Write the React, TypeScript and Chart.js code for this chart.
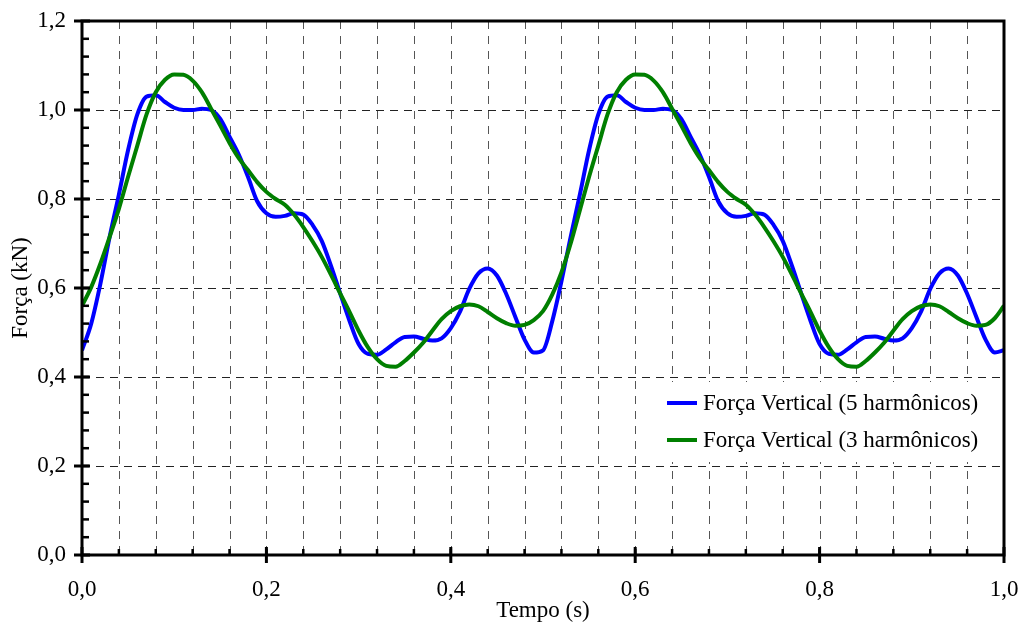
import { useEffect, useRef } from "react";
import { Chart, registerables } from "chart.js";

Chart.register(...registerables);

const TIME = [
  0.0, 0.01, 0.02, 0.03, 0.04, 0.05, 0.06, 0.07, 0.08, 0.09,
  0.1, 0.11, 0.12, 0.13, 0.14, 0.15, 0.16, 0.17, 0.18, 0.19,
  0.2, 0.21, 0.22, 0.23, 0.24, 0.25, 0.26, 0.27, 0.28, 0.29,
  0.3, 0.31, 0.32, 0.33, 0.34, 0.35, 0.36, 0.37, 0.38, 0.39,
  0.4, 0.41, 0.42, 0.43, 0.44, 0.45, 0.46, 0.47, 0.48, 0.49,
  0.5, 0.51, 0.52, 0.53, 0.54, 0.55, 0.56, 0.57, 0.58, 0.59,
  0.6, 0.61, 0.62, 0.63, 0.64, 0.65, 0.66, 0.67, 0.68, 0.69,
  0.7, 0.71, 0.72, 0.73, 0.74, 0.75, 0.76, 0.77, 0.78, 0.79,
  0.8, 0.81, 0.82, 0.83, 0.84, 0.85, 0.86, 0.87, 0.88, 0.89,
  0.9, 0.91, 0.92, 0.93, 0.94, 0.95, 0.96, 0.97, 0.98, 0.99,
  1.0,
];

const FORCE_5H = [
  0.46, 0.52, 0.61, 0.715, 0.81, 0.91, 0.99, 1.03, 1.033, 1.018,
  1.005, 1.0, 1.0, 1.003, 1.0, 0.98, 0.94, 0.9, 0.85, 0.795,
  0.768, 0.76, 0.762, 0.768, 0.765, 0.742, 0.706, 0.65, 0.588, 0.527,
  0.474, 0.452, 0.45, 0.462, 0.478, 0.49, 0.491, 0.486, 0.482, 0.487,
  0.51, 0.547, 0.598, 0.633, 0.644, 0.628, 0.587, 0.535, 0.484, 0.455,
  0.46, 0.525, 0.615, 0.715, 0.81, 0.91, 0.99, 1.03, 1.033, 1.018,
  1.005, 1.0, 1.0, 1.003, 1.0, 0.98, 0.94, 0.9, 0.85, 0.795,
  0.768, 0.76, 0.762, 0.768, 0.765, 0.742, 0.706, 0.65, 0.588, 0.527,
  0.474, 0.452, 0.45, 0.462, 0.478, 0.49, 0.491, 0.486, 0.482, 0.487,
  0.51, 0.547, 0.598, 0.633, 0.644, 0.628, 0.587, 0.535, 0.484, 0.455,
  0.46,
];

const FORCE_3H = [
  0.56, 0.602, 0.655, 0.715, 0.778, 0.85, 0.92, 0.99, 1.04, 1.068,
  1.08, 1.079, 1.066, 1.04, 1.003, 0.965, 0.926, 0.892, 0.865, 0.838,
  0.816, 0.8, 0.787, 0.765, 0.737, 0.705, 0.67, 0.63, 0.588, 0.547,
  0.504, 0.467, 0.44, 0.425, 0.423, 0.436, 0.455, 0.477, 0.504, 0.53,
  0.548, 0.559, 0.563, 0.559, 0.546, 0.532, 0.521, 0.515, 0.517, 0.528,
  0.548, 0.585, 0.635, 0.7, 0.775, 0.85, 0.92, 0.99, 1.04, 1.068,
  1.08, 1.079, 1.066, 1.04, 1.003, 0.965, 0.926, 0.892, 0.865, 0.838,
  0.816, 0.8, 0.787, 0.765, 0.737, 0.705, 0.67, 0.63, 0.588, 0.547,
  0.504, 0.467, 0.44, 0.425, 0.423, 0.436, 0.455, 0.477, 0.504, 0.53,
  0.548, 0.559, 0.563, 0.559, 0.546, 0.532, 0.521, 0.515, 0.517, 0.532,
  0.56,
];

const SERIES_LABELS = ["Força Vertical (5 harmônicos)", "Força Vertical (3 harmônicos)"];
const SERIES_COLORS = ["#0000ff", "#007f00"];
const X_TITLE = "Tempo (s)";
const Y_TITLE = "Força (kN)";
const X_MAJOR = [0, 0.2, 0.4, 0.6, 0.8, 1.0];
const Y_MAJOR = [0, 0.2, 0.4, 0.6, 0.8, 1.0, 1.2];
const MINOR_STEP = 0.04;

const FONT_FAMILY = "'Liberation Serif', 'Times New Roman', serif";
const FONT_SIZE = 23;
const fmt = (v: number) => Number(v).toFixed(1).replace(".", ",");

const framePlugin = {
  id: "framePlugin",
  beforeDatasetsDraw(chart: any) {
    const { ctx, chartArea, scales } = chart;
    const { left, right, top, bottom } = chartArea;
    const x = scales.x;
    const y = scales.y;
    ctx.save();
    ctx.lineWidth = 1;
    ctx.setLineDash([8, 7]);
    ctx.strokeStyle = "#555";
    const nx = Math.round((x.max - x.min) / MINOR_STEP);
    for (let i = 1; i < nx; i++) {
      const px = Math.round(x.getPixelForValue(x.min + i * MINOR_STEP)) + 0.5;
      ctx.beginPath();
      ctx.moveTo(px, top);
      ctx.lineTo(px, bottom);
      ctx.stroke();
    }
    ctx.setLineDash([8, 6]);
    ctx.strokeStyle = "#222";
    Y_MAJOR.forEach((v) => {
      if (v <= y.min || v >= y.max) return;
      const py = Math.round(y.getPixelForValue(v)) + 0.5;
      ctx.beginPath();
      ctx.moveTo(left, py);
      ctx.lineTo(right, py);
      ctx.stroke();
    });
    ctx.restore();
  },
  afterDatasetsDraw(chart: any) {
    const { ctx, chartArea, scales } = chart;
    const { left, right, top, bottom } = chartArea;
    const x = scales.x;
    const y = scales.y;
    ctx.save();
    ctx.setLineDash([]);

    // legend
    ctx.fillStyle = "#fff";
    ctx.fillRect(652, 382, 346, 80);
    const legendY = [403, 440];
    chart.data.datasets.forEach((ds: any) => {
      const ly = legendY[ds.legendIndex];
      ctx.strokeStyle = ds.borderColor;
      ctx.lineWidth = 4;
      ctx.beginPath();
      ctx.moveTo(667, ly);
      ctx.lineTo(697, ly);
      ctx.stroke();
      ctx.fillStyle = "#000";
      ctx.font = `${FONT_SIZE}px ${FONT_FAMILY}`;
      ctx.textBaseline = "middle";
      ctx.textAlign = "left";
      ctx.fillText(ds.label, 703, ly + 1);
    });

    // frame
    ctx.strokeStyle = "#000";
    ctx.lineWidth = 3;
    ctx.beginPath();
    ctx.moveTo(left, top);
    ctx.lineTo(right, top);
    ctx.lineTo(right, bottom);
    ctx.lineTo(left, bottom);
    ctx.closePath();
    ctx.stroke();

    // y ticks
    const ny = Math.round((y.max - y.min) / MINOR_STEP);
    ctx.lineWidth = 2.5;
    for (let i = 1; i < ny; i++) {
      const py = y.getPixelForValue(y.min + i * MINOR_STEP);
      ctx.beginPath();
      ctx.moveTo(left, py);
      ctx.lineTo(left + 7, py);
      ctx.stroke();
    }
    ctx.lineWidth = 3;
    Y_MAJOR.forEach((v) => {
      const py = y.getPixelForValue(v);
      ctx.beginPath();
      ctx.moveTo(left - 8, py);
      ctx.lineTo(left + 8, py);
      ctx.stroke();
    });
    // x ticks
    const nx = Math.round((x.max - x.min) / MINOR_STEP);
    ctx.lineWidth = 2.5;
    for (let i = 1; i < nx; i++) {
      const px = x.getPixelForValue(x.min + i * MINOR_STEP);
      ctx.beginPath();
      ctx.moveTo(px, bottom);
      ctx.lineTo(px, bottom - 6);
      ctx.stroke();
    }
    ctx.lineWidth = 3;
    X_MAJOR.forEach((v) => {
      const px = x.getPixelForValue(v);
      ctx.beginPath();
      ctx.moveTo(px, bottom - 8);
      ctx.lineTo(px, bottom + 8);
      ctx.stroke();
    });
    ctx.restore();
  },
};

export default function App() {
  const canvasRef = useRef<HTMLCanvasElement | null>(null);

  useEffect(() => {
    document.body.style.margin = "0";
    const canvas = canvasRef.current;
    if (!canvas) return;
    const chart = new Chart(canvas, {
      type: "line",
      data: {
        datasets: [
          {
            label: SERIES_LABELS[0],
            legendIndex: 0,
            data: TIME.map((t, i) => ({ x: t, y: FORCE_5H[i] })),
            borderColor: SERIES_COLORS[0],
            borderWidth: 4,
            pointRadius: 0,
            fill: false,
            cubicInterpolationMode: "monotone",
            order: 2,
          } as any,
          {
            label: SERIES_LABELS[1],
            legendIndex: 1,
            data: TIME.map((t, i) => ({ x: t, y: FORCE_3H[i] })),
            borderColor: SERIES_COLORS[1],
            borderWidth: 4,
            pointRadius: 0,
            fill: false,
            cubicInterpolationMode: "monotone",
            order: 1,
          } as any,
        ],
      },
      options: {
        responsive: false,
        animation: false,
        layout: { padding: { top: 21, right: 17, left: 0, bottom: 0 } },
        plugins: { legend: { display: false }, tooltip: { enabled: false } },
        scales: {
          x: {
            type: "linear",
            min: 0,
            max: 1,
            afterFit: (s: any) => {
              s.height = 73;
              s.paddingLeft = 0;
              s.paddingRight = 0;
            },
            grid: { display: false, drawTicks: false },
            border: { display: false },
            ticks: {
              stepSize: 0.2,
              padding: 21,
              color: "#000",
              font: { family: FONT_FAMILY, size: FONT_SIZE },
              maxRotation: 0,
              callback: (v: any) => fmt(v),
            },
            title: {
              display: true,
              text: X_TITLE,
              color: "#000",
              font: { family: FONT_FAMILY, size: FONT_SIZE },
              padding: { top: 0, bottom: 3 },
            },
          },
          y: {
            type: "linear",
            min: 0,
            max: 1.2,
            afterFit: (s: any) => {
              s.width = 82;
              s.paddingTop = 0;
              s.paddingBottom = 0;
            },
            grid: { display: false, drawTicks: false },
            border: { display: false },
            ticks: {
              stepSize: 0.2,
              padding: 16,
              color: "#000",
              font: { family: FONT_FAMILY, size: FONT_SIZE },
              callback: (v: any) => fmt(v),
            },
            title: {
              display: true,
              text: Y_TITLE,
              color: "#000",
              font: { family: FONT_FAMILY, size: FONT_SIZE },
              padding: { top: 7, bottom: 0 },
            },
          },
        },
      },
      plugins: [framePlugin],
    } as any);
    return () => chart.destroy();
  }, []);

  return (
    <div style={{ width: 1021, height: 628 }}>
      <canvas ref={canvasRef} width={1021} height={628} style={{ display: "block" }} />
    </div>
  );
}
